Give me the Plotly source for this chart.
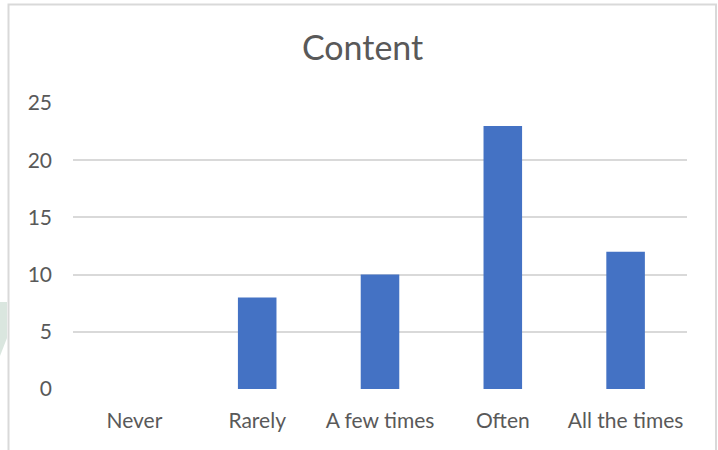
import plotly.graph_objects as go

# Survey responses for "Content"
categories = ["Never", "Rarely", "A few times", "Often", "All the times"]
counts = [0, 8, 10, 23, 12]
y_ticks = [0, 5, 10, 15, 20, 25]

TEXT = "#595959"
GRID = "#d9d9d9"
BAR = "#4472C4"
FONT = "Lato, Calibri, 'Open Sans', sans-serif"

# plot area in pixels, used to place the frame outside it
PL, PR, PT, PB = 73, 687, 103, 389


def px(x):
    return (x - PL) / (PR - PL)


def py(y):
    return (PB - y) / (PB - PT)


fig = go.Figure(
    go.Bar(
        x=categories,
        y=counts,
        marker=dict(color=BAR, line=dict(width=0)),
        hoverinfo="x+y",
    )
)

edge_path = "M {x0},{y0} L {x1},{y0} L {x1},{y1} L {x0},{y2} Z".format(
    x0=px(0), x1=px(7), y0=py(302), y1=py(338), y2=py(356)
)

fig.update_layout(
    width=718,
    height=450,
    margin=dict(l=PL, r=718 - PR, t=PT, b=450 - PB),
    paper_bgcolor="white",
    plot_bgcolor="white",
    bargap=0.686,
    showlegend=False,
    font=dict(family=FONT, color=TEXT),
    title=dict(
        text="Content",
        x=0.505,
        xanchor="center",
        y=1 - 48 / 450,
        yanchor="middle",
        font=dict(family=FONT, size=34, color=TEXT),
    ),
    xaxis=dict(
        showgrid=False,
        showline=False,
        zeroline=False,
        ticks="",
        tickfont=dict(family=FONT, size=21, color=TEXT),
        ticklabelstandoff=17,
    ),
    yaxis=dict(
        range=[0, 25],
        tickvals=y_ticks,
        showgrid=True,
        gridcolor=GRID,
        gridwidth=2,
        zeroline=False,
        showline=False,
        ticks="",
        tickfont=dict(family=FONT, size=21, color=TEXT),
        ticklabelstandoff=20,
    ),
    shapes=[
        # faint edge tint at the far left
        dict(
            type="path",
            xref="paper",
            yref="paper",
            path=edge_path,
            fillcolor="#dae6df",
            line=dict(width=0),
            layer="below",
        ),
        # chart frame
        dict(
            type="rect",
            xref="paper",
            yref="paper",
            x0=px(8.5),
            x1=px(716),
            y0=py(470),
            y1=py(4.5),
            line=dict(color=GRID, width=2),
            fillcolor="rgba(0,0,0,0)",
            layer="below",
        ),
    ],
)

fig.write_html("out.html")
